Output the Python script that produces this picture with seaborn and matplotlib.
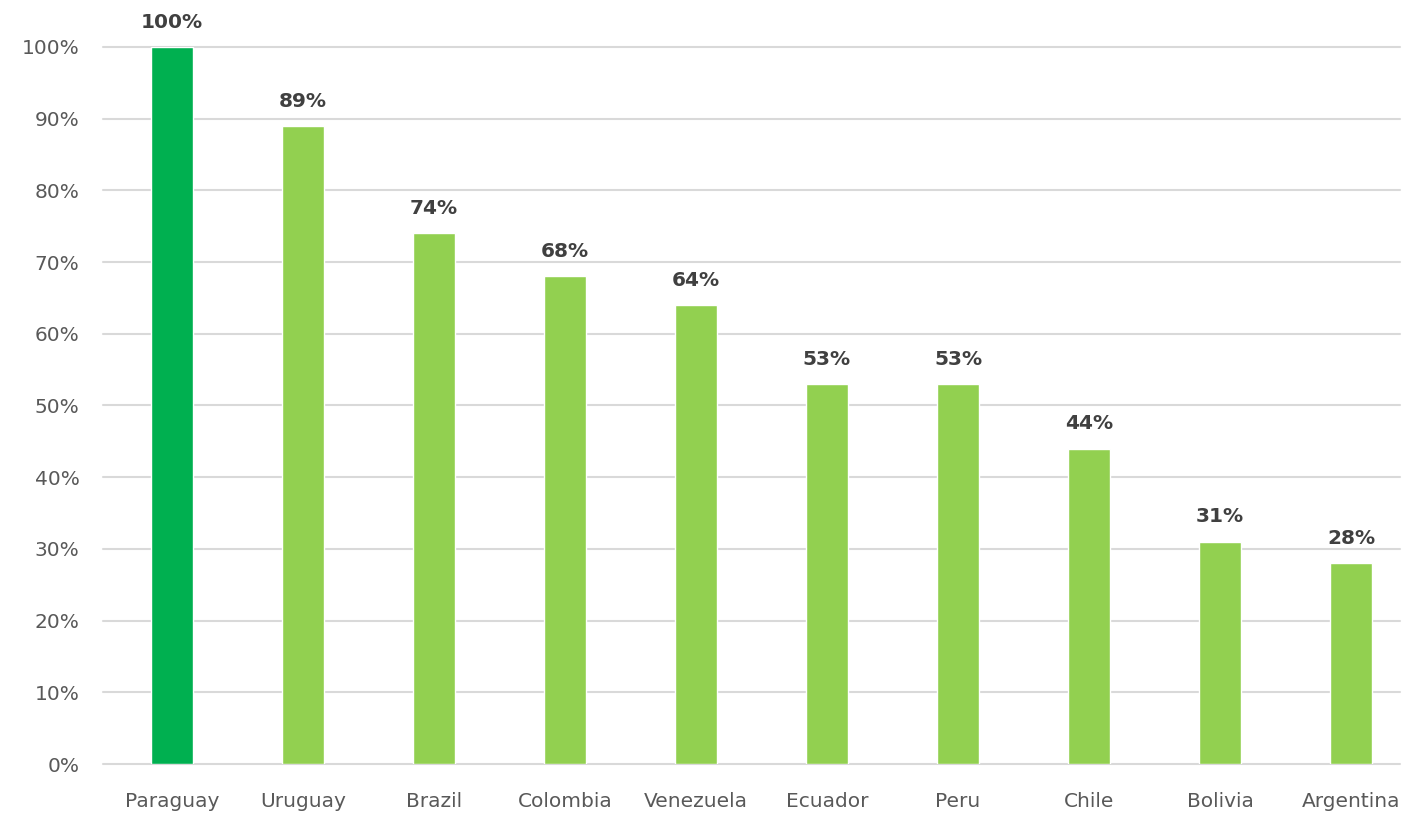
import matplotlib
matplotlib.use("Agg")
import matplotlib.pyplot as plt
import seaborn as sns
import pandas as pd

countries = ["Paraguay", "Uruguay", "Brazil", "Colombia", "Venezuela",
             "Ecuador", "Peru", "Chile", "Bolivia", "Argentina"]
shares = [100, 89, 74, 68, 64, 53, 53, 44, 31, 28]
bar_colors = ["#00B050"] + ["#92D050"] * 9
y_ticks = [0, 10, 20, 30, 40, 50, 60, 70, 80, 90, 100]

df = pd.DataFrame({"country": countries, "share": shares})

sns.set_theme(style="white")
plt.rcParams["font.family"] = ["DejaVu Sans"]

W, H = 1414, 813
fig = plt.figure(figsize=(W / 100, H / 100), dpi=100)
left, right, bottom, top = 103, 1400, 764, 47
ax = fig.add_axes([left / W, (H - bottom) / H, (right - left) / W, (bottom - top) / H])

sns.barplot(data=df, x="country", y="share", hue="country",
            palette=bar_colors, width=0.32, legend=False, ax=ax,
            saturation=1, zorder=3)

slot = 131.0
x0 = -(172 - left) / slot
ax.set_xlim(x0, x0 + (right - left) / slot)
ax.set_ylim(0, 100)
ax.set_yticks(y_ticks)
ax.set_yticklabels([f"{v}%" for v in y_ticks])
ax.yaxis.grid(True, color="#d9d9d9", linewidth=1.5, zorder=0)
ax.set_axisbelow(True)
for gl in ax.get_ygridlines():
    gl.set_clip_on(False)
for s in ax.spines.values():
    s.set_visible(False)
ax.set_xlabel("")
ax.set_ylabel("")
ax.tick_params(axis="x", length=0, pad=20, labelsize=14.5, labelcolor="#595959")
ax.tick_params(axis="y", length=0, pad=17, labelsize=14.5, labelcolor="#595959")

for container in ax.containers:
    ax.bar_label(container, labels=[f"{v:.0f}%" for v in container.datavalues],
                 padding=11, fontsize=14.5, fontweight="bold", color="#404040")

fig.savefig("out.png", dpi=100, facecolor="white")
